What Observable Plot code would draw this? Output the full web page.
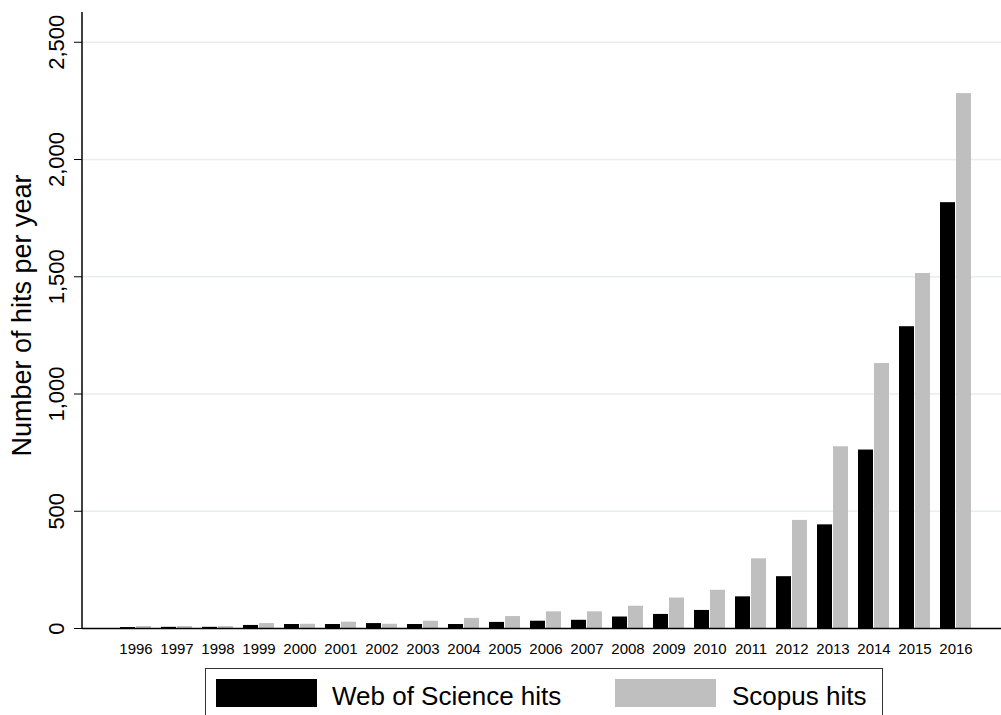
<!DOCTYPE html>
<html>
<head>
<meta charset="utf-8">
<script src="https://cdn.jsdelivr.net/npm/d3@7"></script>
<script src="https://cdn.jsdelivr.net/npm/@observablehq/plot@0.6"></script>
<style>
  html, body { margin: 0; padding: 0; background: #fff; overflow: hidden; }
  #wrap { position: relative; width: 1001px; height: 715px; font-family: "Liberation Sans", Arial, sans-serif; }
  #legend { position: absolute; left: 205px; top: 668px; width: 678px; height: 70px; border: 1px solid #333; box-sizing: border-box; }
  .sw { position: absolute; top: 10px; width: 101px; height: 28px; }
  .lt { position: absolute; top: 13px; font-size: 26px; line-height: 28px; color: #000; white-space: nowrap; }
</style>
</head>
<body>
<div id="wrap">
  <div id="chart"></div>
  <div id="legend"></div>
</div>
<script>
const years = [1996, 1997, 1998, 1999, 2000, 2001, 2002, 2003, 2004, 2005, 2006, 2007, 2008, 2009, 2010, 2011, 2012, 2013, 2014, 2015, 2016];
const wosHits = [4, 5, 5, 13, 17, 17, 21, 17, 17, 26, 31, 35, 49, 60, 77, 135, 221, 442, 761, 1287, 1816];
const scopusHits = [8, 8, 8, 21, 18, 27, 18, 31, 43, 51, 71, 71, 95, 130, 163, 297, 461, 775, 1130, 1514, 2281];
const yTicks = [0, 500, 1000, 1500, 2000, 2500];
const seriesNames = ["Web of Science hits", "Scopus hits"];
const seriesColors = ["#000000", "#bfbfbf"];
const yTitle = "Number of hits per year";

const data = years.map((yr, i) => ({year: String(yr), wos: wosHits[i], scopus: scopusHits[i]}));

const yAxisLine = (index, scales, values, dims) => {
  const l = document.createElementNS("http://www.w3.org/2000/svg", "line");
  l.setAttribute("x1", dims.marginLeft);
  l.setAttribute("x2", dims.marginLeft);
  l.setAttribute("y1", dims.marginTop);
  l.setAttribute("y2", dims.height - dims.marginBottom);
  l.setAttribute("stroke", "#000");
  l.setAttribute("stroke-width", 1.5);
  return l;
};

const chart = Plot.plot({
  width: 1001,
  height: 660,
  marginLeft: 82,
  marginRight: 0,
  marginTop: 12,
  marginBottom: 32,
  style: {fontFamily: "'Liberation Sans', Arial, sans-serif", background: "#fff", color: "#000"},
  x: {type: "band", domain: years.map(String), paddingInner: 0.232, paddingOuter: 0.645, align: 0.556},
  y: {domain: [0, 2627]},
  marks: [
    Plot.gridY(yTicks.slice(1), {stroke: "#e6eef0", strokeOpacity: 1, strokeWidth: 1.5}),
    Plot.barY(data, {x: "year", y: "wos", fill: seriesColors[0], insetRight: 16}),
    Plot.barY(data, {x: "year", y: "scopus", fill: seriesColors[1], insetLeft: 16}),
    Plot.ruleY([0], {stroke: "#000", strokeWidth: 1.5}),
    yAxisLine,
    Plot.axisX({tickSize: 0, tickPadding: 15, fontSize: 15, label: null}),
    Plot.axisY(yTicks, {tickSize: 8, tickPadding: 11, tickRotate: -90, tickFormat: d3.format(","), fontSize: 22, label: null}),
    Plot.text([yTitle], {frameAnchor: "left", dx: -60, dy: -5, rotate: -90, fontSize: 27, textAnchor: "middle", lineAnchor: "middle", text: d => d})
  ]
});
document.getElementById("chart").appendChild(chart);

const legend = document.getElementById("legend");
const swLeft = [10, 409];
const txLeft = [126, 526];
seriesNames.forEach((name, i) => {
  const sw = document.createElement("div");
  sw.className = "sw";
  sw.style.left = swLeft[i] + "px";
  sw.style.background = seriesColors[i];
  legend.appendChild(sw);
  const t = document.createElement("div");
  t.className = "lt";
  t.style.left = txLeft[i] + "px";
  t.textContent = name;
  legend.appendChild(t);
});
</script>
</body>
</html>
